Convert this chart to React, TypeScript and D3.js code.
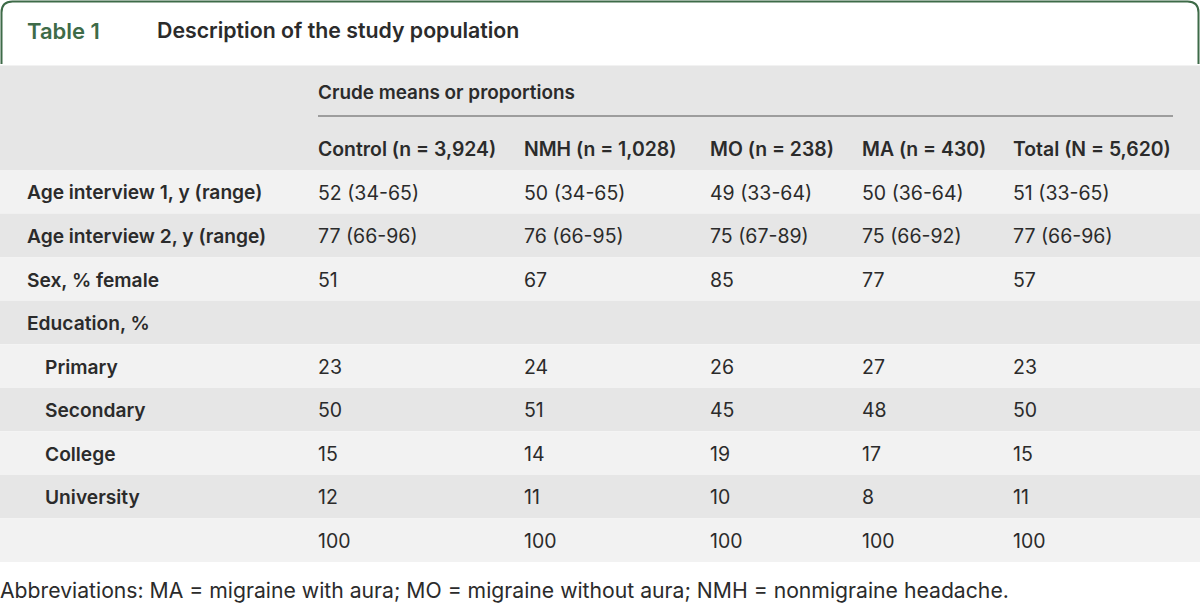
import React from "react";
import * as d3 from "d3";

const W = 1200;
const H = 604;

const tableLabel = "Table 1";
const tableTitle = "Description of the study population";
const spanHeader = "Crude means or proportions";
const columns = ["Control (n = 3,924)", "NMH (n = 1,028)", "MO (n = 238)", "MA (n = 430)", "Total (N = 5,620)"];
const rowLabels = ["Age interview 1, y (range)", "Age interview 2, y (range)", "Sex, % female", "Education, %", "Primary", "Secondary", "College", "University", ""];
const rowIndent = [false, false, false, false, true, true, true, true, false];
const controlVals = ["52 (34-65)", "77 (66-96)", "51", "", "23", "50", "15", "12", "100"];
const nmhVals = ["50 (34-65)", "76 (66-95)", "67", "", "24", "51", "14", "11", "100"];
const moVals = ["49 (33-64)", "75 (67-89)", "85", "", "26", "45", "19", "10", "100"];
const maVals = ["50 (36-64)", "75 (66-92)", "77", "", "27", "48", "17", "8", "100"];
const totalVals = ["51 (33-65)", "77 (66-96)", "57", "", "23", "50", "15", "11", "100"];
const footnote = "Abbreviations: MA = migraine with aura; MO = migraine without aura; NMH = nonmigraine headache.";

const colValues = [controlVals, nmhVals, moVals, maVals, totalVals];
const colX = [318, 524, 710, 862, 1013];

const FONT = "Inter, Roboto, sans-serif";
const TEXT = "#2b2b2b";
const GREEN = "#3e6b48";

export default function App() {
  const y = d3.scaleBand<number>().domain(d3.range(rowLabels.length)).range([170, 562]).padding(0);
  const x = d3.scaleOrdinal<number, number>().domain(d3.range(columns.length)).range(colX);
  const r = 11;
  const border = `M1.5,64 L1.5,${1.5 + r} Q1.5,1.5 ${1.5 + r},1.5 L${W - 1.5 - r},1.5 Q${W - 1.5},1.5 ${W - 1.5},${1.5 + r} L${W - 1.5},64`;

  return (
    <svg width={W} height={H} style={{ position: "absolute", left: 0, top: 0, background: "#fff" }} fontFamily={FONT}>
      <rect x={0} y={0} width={W} height={H} fill="#fff" />
      <path d={border} fill="none" stroke={GREEN} strokeWidth={2} />
      <text x={27} y={31} dy="0.35em" fill={GREEN} fontWeight={600} fontSize={22}>{tableLabel}</text>
      <text x={157} y={31} dy="0.35em" fill={TEXT} fontWeight={600} fontSize={21.3}>{tableTitle}</text>

      <rect x={0} y={65.5} width={W} height={104.5} fill="#e6e6e6" />
      <text x={x(0)} y={92} dy="0.35em" fill={TEXT} fontWeight={600} fontSize={18.9}>{spanHeader}</text>
      <line x1={x(0)} x2={1173} y1={116} y2={116} stroke="#555" strokeWidth={1.2} />
      {columns.map((c, i) => (
        <text key={c} x={x(i)} y={149} dy="0.35em" fill={TEXT} fontWeight={600} fontSize={19.4}>{c}</text>
      ))}

      {rowLabels.map((lab, i) => (
        <g key={i}>
          <rect x={0} y={y(i)} width={W} height={y.bandwidth()} fill={i % 2 === 0 ? "#f2f2f2" : "#e6e6e6"} />
          <text x={rowIndent[i] ? 45 : 27} y={(y(i) as number) + y.bandwidth() / 2 + 1} dy="0.35em" fill={TEXT} fontWeight={600} fontSize={19.2}>{lab}</text>
          {colValues.map((vals, j) => (
            <text key={j} x={x(j)} y={(y(i) as number) + y.bandwidth() / 2 + 1} dy="0.35em" fill={TEXT} fontWeight={400} fontSize={19.5}>{vals[i]}</text>
          ))}
        </g>
      ))}

      <text x={0} y={591} dy="0.35em" fill={TEXT} fontWeight={400} fontSize={21.2}>{footnote}</text>
    </svg>
  );
}
